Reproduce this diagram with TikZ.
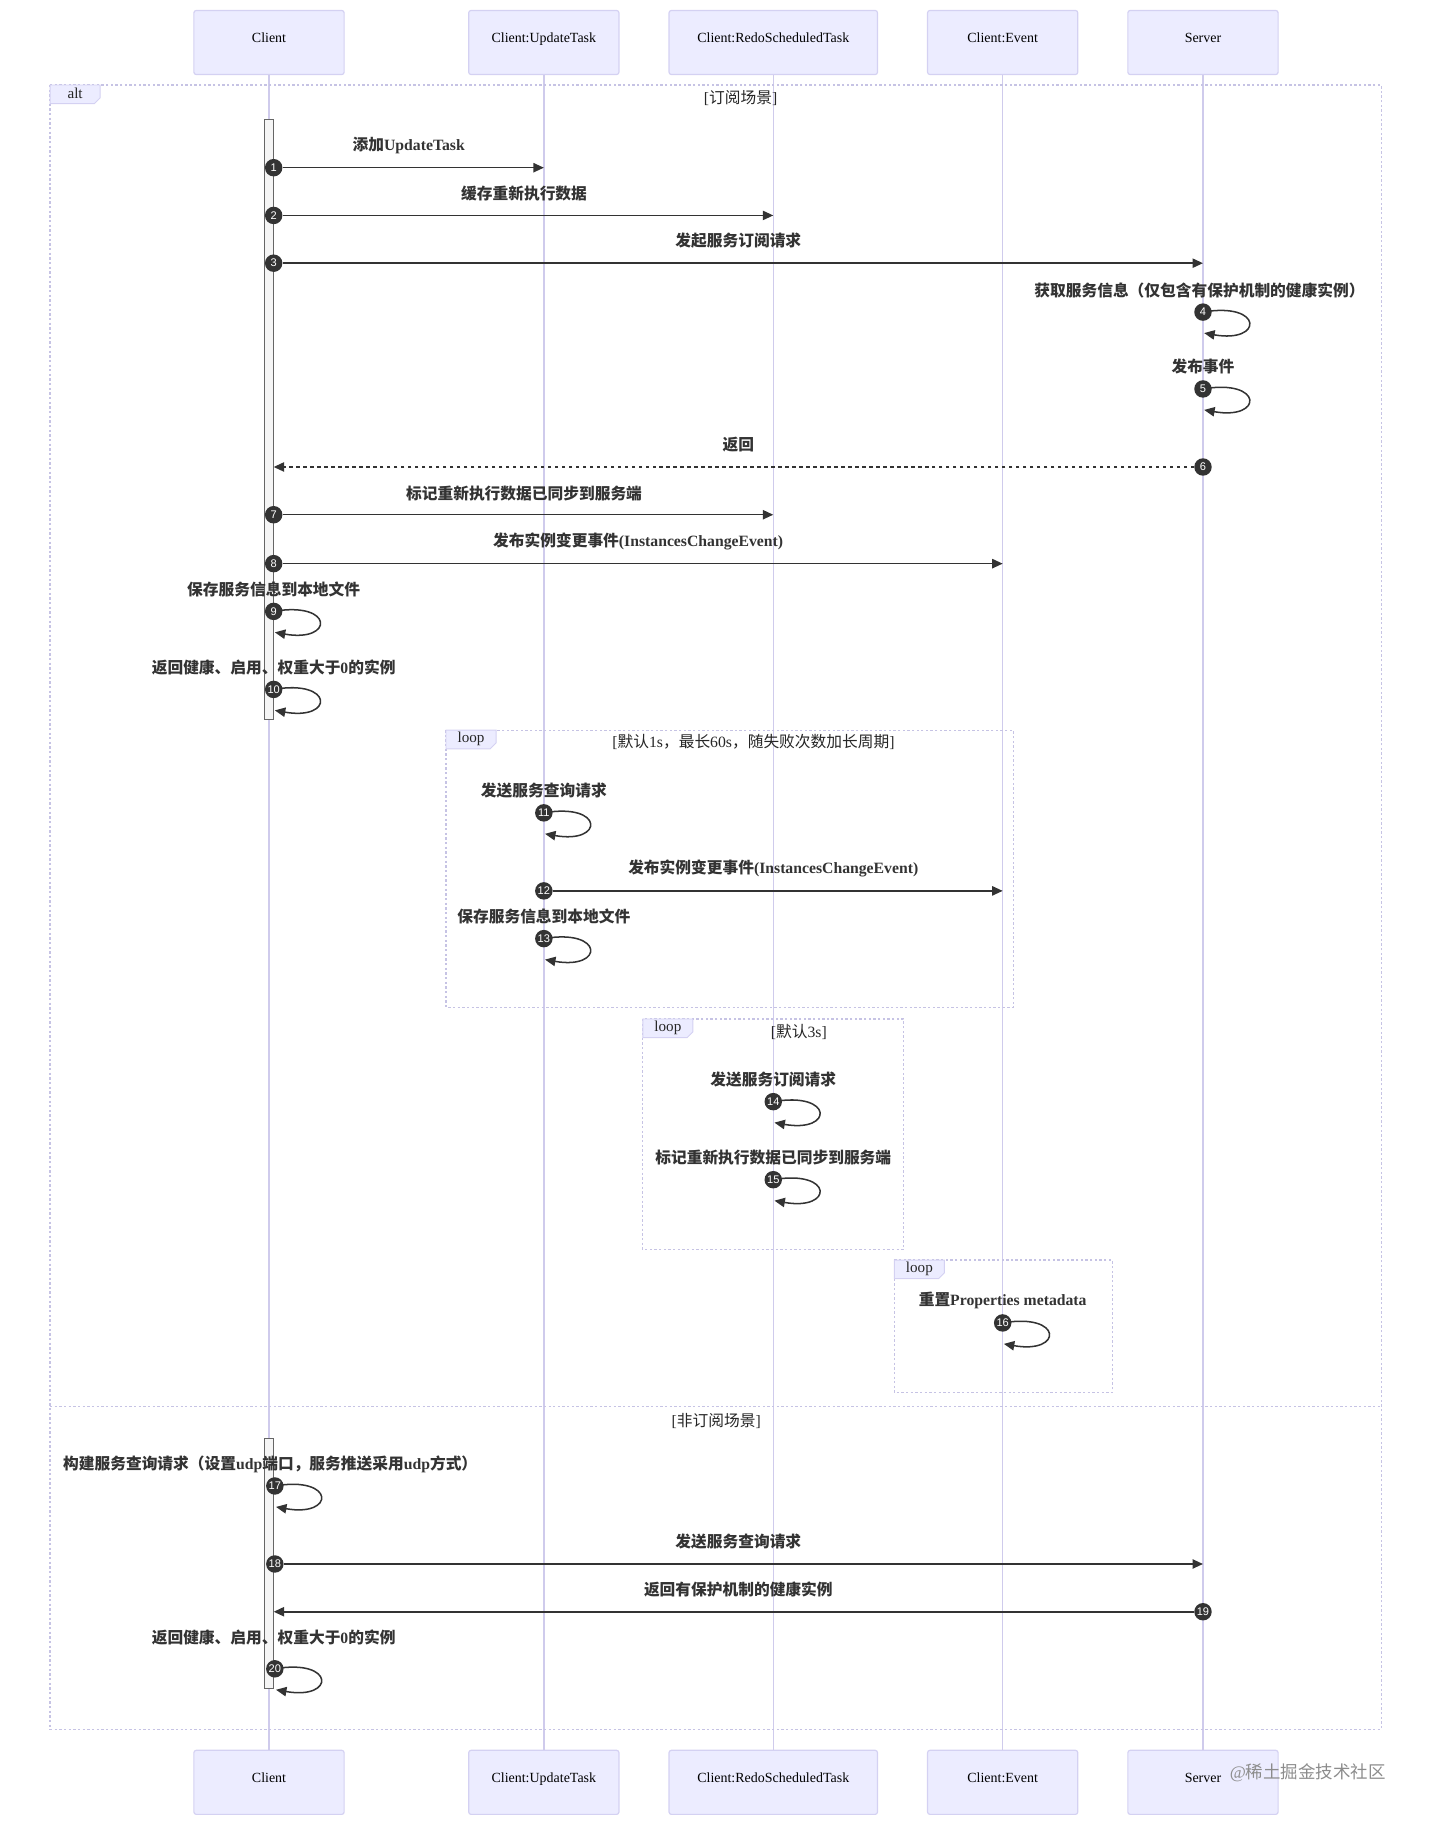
\documentclass[tikz,border=0pt]{standalone}
\usepackage{fontspec}
\setmainfont{Liberation Serif}
\newfontfamily\cjkfont{Noto Sans CJK SC}
\newfontfamily\numfont{Liberation Sans}
\usetikzlibrary{arrows.meta}
\newcommand{\zh}[1]{{\cjkfont #1}}
\definecolor{actfill}{HTML}{ECECFF}
\definecolor{actline}{HTML}{D4D1F2}
\definecolor{lifecol}{HTML}{CFCBEC}
\definecolor{framecol}{HTML}{C6C3E4}
\definecolor{msgcol}{HTML}{333333}
\tikzset{
  actor/.style={draw=actline,fill=actfill,rounded corners=2pt,minimum height=55pt,line width=1pt},
  actorlab/.style={font=\fontsize{12}{14}\selectfont,anchor=base,inner sep=0pt},
  lifeline/.style={draw=lifecol,line width=1.3pt},
  frame/.style={draw=framecol,line width=1pt,dash pattern=on 2pt off 2pt},
  tab/.style={fill=actfill,draw=actline,line width=0.8pt},
  actbar/.style={draw=black!60,fill=black!4,line width=0.8pt},
  msg/.style={draw=msgcol,line width=1.3pt,-{Triangle[length=9pt,width=8pt]}},
  num/.style={circle,fill=msgcol,text=white,inner sep=0pt,minimum size=15pt,font=\numfont\fontsize{9.5}{9.5}\selectfont},
  msglab/.style={font=\bfseries\fontsize{13.5}{16}\selectfont,text=msgcol,inner sep=0pt},
  condlab/.style={font=\fontsize{13.5}{15}\selectfont,text=black!85,inner sep=0pt}
}

\begin{document}
\begin{tikzpicture}[x=1pt,y=-1pt]
  \useasboundingbox (0,0) rectangle (1229,1568);
  % participants, top and bottom
  \foreach \nm/\x/\w/\lab in {client/231/129/Client,upd/467/129/Client:UpdateTask,redo/664/179/Client:RedoScheduledTask,event/861/129/Client:Event,server/1033/129/Server} {
    \node[actor,minimum width=\w pt] (\nm) at (\x,36.5) {};
    \node[actorlab] (\nm T) at (\x,36.5) {\lab};
    \node[actor,minimum width=\w pt] (\nm B) at (\x,1530.5) {};
    \node[actorlab] (\nm BT) at (\x,1531) {\lab};
    \draw[lifeline] (\nm) -- (\nm B);
  }
  % alt / loop frames
  \draw[frame] (43,73) rectangle (1186,1485);
  \draw[frame] (43,1208) -- (1186,1208);
  \draw[frame] (383,627) rectangle (870,865);
  \draw[frame] (552,875) rectangle (776,1073);
  \draw[frame] (768,1082) rectangle (955,1196);
  \foreach \nm/\x/\y/\lab in {alt/43/73/alt,loopa/383/627/loop,loopb/552/875/loop,loopc/768/1082/loop} {
    \draw[tab] (\x,\y) -- (\x+43,\y) -- (\x+43,\y+11) -- (\x+38,\y+16) -- (\x,\y+16) -- cycle;
    \node[condlab,font=\fontsize{13}{15}\selectfont] (\nm) at (\x+21.5,\y+7.5) {\lab};
  }
  \node[condlab] (ca) at (636,84) {[\zh{订阅场景}]};
  \node[condlab] (cb) at (647,637) {[\zh{默认}1s\zh{，最长}60s\zh{，随失败次数加长周期}]};
  \node[condlab] (cc) at (686,886) {[\zh{默认}3s]};
  \node[condlab] (cd) at (615,1220) {[\zh{非订阅场景}]};
  % activations
  \draw[actbar] (227,103) rectangle (235,618);
  \draw[actbar] (227,1235) rectangle (235,1450);
  \coordinate (actR) at (235,0);

  % messages
  \node[num] (n1) at (235,144) {1};
  \draw[msg] (n1) -- (n1 -| upd);
  \node[num] (n2) at (235,185) {2};
  \draw[msg] (n2) -- (n2 -| redo);
  \node[num] (n3) at (235,226) {3};
  \draw[msg] (n3) -- (n3 -| server);
  \node[num] (n6) at (1033,401) {6};
  \draw[msg,dash pattern=on 3pt off 3pt] (n6) -- (n6 -| actR);
  \node[num] (n7) at (235,442) {7};
  \draw[msg] (n7) -- (n7 -| redo);
  \node[num] (n8) at (235,484) {8};
  \draw[msg] (n8) -- (n8 -| event);
  \node[num] (n12) at (467,765) {12};
  \draw[msg] (n12) -- (n12 -| event);
  \node[num] (n18) at (236,1343) {18};
  \draw[msg] (n18) -- (n18 -| server);
  \node[num] (n19) at (1033,1384) {19};
  \draw[msg] (n19) -- (n19 -| actR);
  % self calls
  \foreach \i/\x/\y in {4/1033/268,5/1033/334,9/235/525,10/235/592,11/467/698,13/467/806,14/664/946,15/664/1013,16/861/1136,17/236/1276,20/236/1433} {
    \draw[msg] (\x,\y) .. controls (\x+52,\y-9) and (\x+52,\y+27) .. (\x+1,\y+18);
    \node[num] (n\i) at (\x,\y) {\i};
  }

  \node[msglab] (t1) at (351,125) {\zh{添加}UpdateTask};
  \node[msglab] (t2) at (450,166) {\zh{缓存重新执行数据}};
  \node[msglab] (t3) at (634,207) {\zh{发起服务订阅请求}};
  \node[msglab] (t4) at (1030,249) {\zh{获取服务信息（仅包含有保护机制的健康实例）}};
  \node[msglab] (t5) at (1033,315) {\zh{发布事件}};
  \node[msglab] (t6) at (634,382) {\zh{返回}};
  \node[msglab] (t7) at (450,424) {\zh{标记重新执行数据已同步到服务端}};
  \node[msglab] (t8) at (548,465) {\zh{发布实例变更事件}(InstancesChangeEvent)};
  \node[msglab] (t9) at (235,506) {\zh{保存服务信息到本地文件}};
  \node[msglab] (t10) at (235,573) {\zh{返回健康、启用、权重大于}0\zh{的实例}};
  \node[msglab] (t11) at (467,679) {\zh{发送服务查询请求}};
  \node[msglab] (t12) at (664,746) {\zh{发布实例变更事件}(InstancesChangeEvent)};
  \node[msglab] (t13) at (467,787) {\zh{保存服务信息到本地文件}};
  \node[msglab] (t14) at (664,927) {\zh{发送服务订阅请求}};
  \node[msglab] (t15) at (664,994) {\zh{标记重新执行数据已同步到服务端}};
  \node[msglab] (t16) at (861,1117) {\zh{重置}Properties metadata};
  \node[msglab] (t17) at (232,1257) {\zh{构建服务查询请求（设置}udp\zh{端口，服务推送采用}udp\zh{方式）}};
  \node[msglab] (t18) at (634,1324) {\zh{发送服务查询请求}};
  \node[msglab] (t19) at (634,1365) {\zh{返回有保护机制的健康实例}};
  \node[msglab] (t20) at (235,1406) {\zh{返回健康、启用、权重大于}0\zh{的实例}};

  \node[font=\fontsize{15}{17}\selectfont,text=black!45,inner sep=0pt] (mark) at (1123,1522) {@\zh{稀土掘金技术社区}};
\end{tikzpicture}
\end{document}
